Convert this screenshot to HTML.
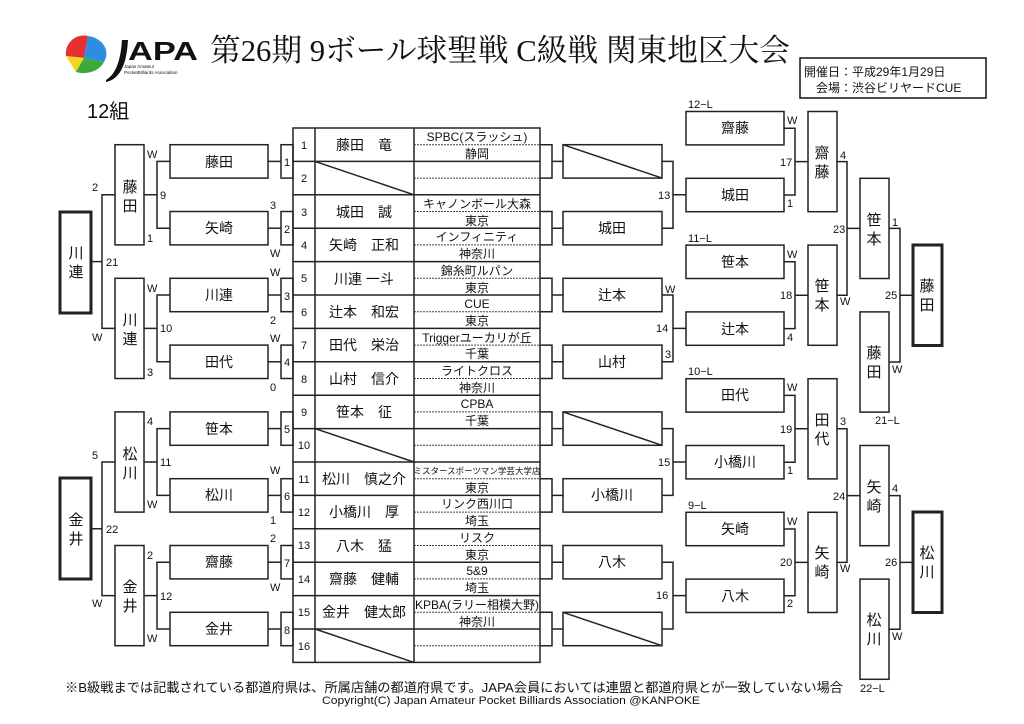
<!DOCTYPE html>
<html><head><meta charset="utf-8"><style>
html,body{margin:0;padding:0;background:#fff;}
svg{display:block;}
text{font-family:"Liberation Sans","Noto Sans CJK JP",sans-serif;fill:#111;}
.s{font-family:"Liberation Serif","Noto Serif CJK SC",serif;}
</style></head><body>
<svg width="1024" height="724" viewBox="0 0 1024 724" xmlns="http://www.w3.org/2000/svg">
<!-- logo -->
<g>
<path d="M66 56 A18 18 0 0 1 88 36 L84 58 Z" fill="#e53030"/>
<path d="M88 36 A22 18 0 0 1 104 62 L84 58 Z" fill="#2a8fe0"/>
<path d="M66 56 L84 58 L76 72 Z" fill="#f2d520"/>
<path d="M76 72 L84 58 L104 62 A22 18 0 0 1 76 72 Z" fill="#3aaa3a"/>
<path d="M106 80 Q120 72 122 40 L128 40 Q126 78 106 82 Z" fill="#111"/>
<text x="128" y="60" font-size="26" font-weight="bold" textLength="70" lengthAdjust="spacingAndGlyphs">APA</text>
<text x="124" y="68" font-size="4.5">Japan Amateur</text>
<text x="124" y="74" font-size="4.5">PocketBilliards Association</text>
</g>
<text class="s" x="210" y="61" font-size="31" textLength="580" lengthAdjust="spacingAndGlyphs">第26期 9ボール球聖戦 C級戦 関東地区大会</text>
<rect x="800" y="58" width="186" height="40" fill="none" stroke="#111" stroke-width="1.5"/>
<text x="804" y="76" font-size="12">開催日：平成29年1月29日</text>
<text x="816" y="92" font-size="12">会場：渋谷ビリヤードCUE</text>
<text x="87" y="118" font-size="20">12組</text>

<g fill="none" stroke="#222" stroke-width="1.5">
<!-- table -->
<rect x="293" y="128" width="247" height="534.4"/>
<line x1="315" y1="128" x2="315" y2="662.4"/>
<line x1="414" y1="128" x2="414" y2="662.4"/>
<line x1="293" y1="161.4" x2="540" y2="161.4"/><line x1="293" y1="194.8" x2="540" y2="194.8"/>
<line x1="293" y1="228.2" x2="540" y2="228.2"/><line x1="293" y1="261.6" x2="540" y2="261.6"/>
<line x1="293" y1="295" x2="540" y2="295"/><line x1="293" y1="328.4" x2="540" y2="328.4"/>
<line x1="293" y1="361.8" x2="540" y2="361.8"/><line x1="293" y1="395.2" x2="540" y2="395.2"/>
<line x1="293" y1="428.6" x2="540" y2="428.6"/><line x1="293" y1="462" x2="540" y2="462"/>
<line x1="293" y1="495.4" x2="540" y2="495.4"/><line x1="293" y1="528.8" x2="540" y2="528.8"/>
<line x1="293" y1="562.2" x2="540" y2="562.2"/><line x1="293" y1="595.6" x2="540" y2="595.6"/>
<line x1="293" y1="629" x2="540" y2="629"/>
<line x1="315" y1="161.4" x2="414" y2="194.8"/>
<line x1="315" y1="428.6" x2="414" y2="462"/>
<line x1="315" y1="629" x2="414" y2="662.4"/>
</g>
<g stroke="#444" stroke-width="1" stroke-dasharray="2,1">
<line x1="414" y1="144.7" x2="540" y2="144.7"/><line x1="414" y1="178.1" x2="540" y2="178.1"/>
<line x1="414" y1="211.5" x2="540" y2="211.5"/><line x1="414" y1="244.9" x2="540" y2="244.9"/>
<line x1="414" y1="278.3" x2="540" y2="278.3"/><line x1="414" y1="311.7" x2="540" y2="311.7"/>
<line x1="414" y1="345.1" x2="540" y2="345.1"/><line x1="414" y1="378.5" x2="540" y2="378.5"/>
<line x1="414" y1="411.9" x2="540" y2="411.9"/><line x1="414" y1="445.3" x2="540" y2="445.3"/>
<line x1="414" y1="478.7" x2="540" y2="478.7"/><line x1="414" y1="512.1" x2="540" y2="512.1"/>
<line x1="414" y1="545.5" x2="540" y2="545.5"/><line x1="414" y1="578.9" x2="540" y2="578.9"/>
<line x1="414" y1="612.3" x2="540" y2="612.3"/><line x1="414" y1="645.7" x2="540" y2="645.7"/>
</g>
<g font-size="11" text-anchor="middle">
<text x="304" y="149">1</text><text x="304" y="182">2</text><text x="304" y="216">3</text><text x="304" y="249">4</text>
<text x="304" y="282">5</text><text x="304" y="316">6</text><text x="304" y="349">7</text><text x="304" y="383">8</text>
<text x="304" y="416">9</text><text x="304" y="449">10</text><text x="304" y="483">11</text><text x="304" y="516">12</text>
<text x="304" y="549">13</text><text x="304" y="583">14</text><text x="304" y="616">15</text><text x="304" y="650">16</text>
</g>
<g font-size="14" text-anchor="middle">
<text x="364" y="150">藤田　竜</text><text x="364" y="217">城田　誠</text><text x="364" y="250">矢崎　正和</text>
<text x="364" y="284">川連 一斗</text><text x="364" y="317">辻本　和宏</text><text x="364" y="350">田代　栄治</text>
<text x="364" y="384">山村　信介</text><text x="364" y="417">笹本　征</text><text x="364" y="484">松川　慎之介</text>
<text x="364" y="517">小橋川　厚</text><text x="364" y="551">八木　猛</text><text x="364" y="584">齋藤　健輔</text>
<text x="364" y="617">金井　健太郎</text>
</g>
<g font-size="12" text-anchor="middle">
<text x="477" y="141">SPBC(スラッシュ)</text><text x="477" y="158">静岡</text>
<text x="477" y="208">キャノンボール大森</text><text x="477" y="225">東京</text>
<text x="477" y="241">インフィニティ</text><text x="477" y="258">神奈川</text>
<text x="477" y="275">錦糸町ルパン</text><text x="477" y="292">東京</text>
<text x="477" y="308">CUE</text><text x="477" y="325">東京</text>
<text x="477" y="342">Triggerユーカリが丘</text><text x="477" y="358">千葉</text>
<text x="477" y="375">ライトクロス</text><text x="477" y="392">神奈川</text>
<text x="477" y="408">CPBA</text><text x="477" y="425">千葉</text>
<text x="477" y="474" font-size="8.5">ミスタースポーツマン学芸大学店</text><text x="477" y="492">東京</text>
<text x="477" y="508">リンク西川口</text><text x="477" y="525">埼玉</text>
<text x="477" y="542">リスク</text><text x="477" y="559">東京</text>
<text x="477" y="575">5&amp;9</text><text x="477" y="592">埼玉</text>
<text x="477" y="609">KPBA(ラリー相模大野)</text><text x="477" y="626">神奈川</text>
</g>

<g fill="none" stroke="#222" stroke-width="1.5">
<!-- left little boxes and round1 boxes -->
<rect x="281" y="144.7" width="12" height="33.4"/><rect x="281" y="211.5" width="12" height="33.4"/>
<rect x="281" y="278.3" width="12" height="33.4"/><rect x="281" y="345.1" width="12" height="33.4"/>
<rect x="281" y="411.9" width="12" height="33.4"/><rect x="281" y="478.7" width="12" height="33.4"/>
<rect x="281" y="545.5" width="12" height="33.4"/><rect x="281" y="612.3" width="12" height="33.4"/>
<rect x="170" y="144.7" width="98" height="33.4"/><rect x="170" y="211.5" width="98" height="33.4"/>
<rect x="170" y="278.3" width="98" height="33.4"/><rect x="170" y="345.1" width="98" height="33.4"/>
<rect x="170" y="411.9" width="98" height="33.4"/><rect x="170" y="478.7" width="98" height="33.4"/>
<rect x="170" y="545.5" width="98" height="33.4"/><rect x="170" y="612.3" width="98" height="33.4"/>
<line x1="268" y1="161.4" x2="281" y2="161.4"/><line x1="268" y1="228.2" x2="281" y2="228.2"/>
<line x1="268" y1="295" x2="281" y2="295"/><line x1="268" y1="361.8" x2="281" y2="361.8"/>
<line x1="268" y1="428.6" x2="281" y2="428.6"/><line x1="268" y1="495.4" x2="281" y2="495.4"/>
<line x1="268" y1="562.2" x2="281" y2="562.2"/><line x1="268" y1="629" x2="281" y2="629"/>
<!-- left round2 -->
<rect x="115" y="144.7" width="29" height="100.2"/><rect x="115" y="278.3" width="29" height="100.2"/>
<rect x="115" y="411.9" width="29" height="100.2"/><rect x="115" y="545.5" width="29" height="100.2"/>
<path d="M170 161.4H157V228.2H170M144 194.8H157"/>
<path d="M170 295H157V361.8H170M144 328.4H157"/>
<path d="M170 428.6H157V495.4H170M144 462H157"/>
<path d="M170 562.2H157V629H170M144 595.6H157"/>
<path d="M115 194.8H102V328.4H115M91 261.6H102"/>
<path d="M115 462H102V595.6H115M91 528.8H102"/>
<rect x="60" y="212" width="31" height="101" stroke-width="3"/>
<rect x="60" y="478" width="31" height="101" stroke-width="3"/>

<!-- right of table -->
<path d="M540 144.7H552V178.1H540M552 161.4H563"/>
<path d="M540 211.5H552V244.9H540M552 228.2H563"/>
<path d="M540 278.3H552V311.7H540M552 295H563"/>
<path d="M540 345.1H552V378.5H540M552 361.8H563"/>
<path d="M540 411.9H552V445.3H540M552 428.6H563"/>
<path d="M540 478.7H552V512.1H540M552 495.4H563"/>
<path d="M540 545.5H552V578.9H540M552 562.2H563"/>
<path d="M540 612.3H552V645.7H540M552 629H563"/>
<rect x="563" y="144.7" width="99" height="33.4"/><rect x="563" y="211.5" width="99" height="33.4"/>
<rect x="563" y="278.3" width="99" height="33.4"/><rect x="563" y="345.1" width="99" height="33.4"/>
<rect x="563" y="411.9" width="99" height="33.4"/><rect x="563" y="478.7" width="99" height="33.4"/>
<rect x="563" y="545.5" width="99" height="33.4"/><rect x="563" y="612.3" width="99" height="33.4"/>
<line x1="563" y1="144.7" x2="662" y2="178.1"/>
<line x1="563" y1="411.9" x2="662" y2="445.3"/>
<line x1="563" y1="612.3" x2="662" y2="645.7"/>
<path d="M662 161.4H673V228.2H662M673 194.8H686"/>
<path d="M662 295H673V361.8H662M673 328.4H686"/>
<path d="M662 428.6H673V495.4H662M673 462H686"/>
<path d="M662 562.2H673V629H662M673 595.6H686"/>
<rect x="686" y="111.5" width="98" height="33.4"/><rect x="686" y="178.3" width="98" height="33.4"/>
<rect x="686" y="245.1" width="98" height="33.4"/><rect x="686" y="311.9" width="98" height="33.4"/>
<rect x="686" y="378.7" width="98" height="33.4"/><rect x="686" y="445.5" width="98" height="33.4"/>
<rect x="686" y="512.3" width="98" height="33.4"/><rect x="686" y="579.1" width="98" height="33.4"/>
<path d="M784 128.2H795V195H784M795 161.6H808"/>
<path d="M784 261.8H795V328.6H784M795 295.2H808"/>
<path d="M784 395.4H795V462.2H784M795 428.8H808"/>
<path d="M784 529H795V595.8H784M795 562.4H808"/>
<rect x="808" y="111.5" width="29" height="100.2"/><rect x="808" y="245.1" width="29" height="100.2"/>
<rect x="808" y="378.7" width="29" height="100.2"/><rect x="808" y="512.3" width="29" height="100.2"/>
<path d="M837 161.6H847V295.2H837M847 228.4H860"/>
<path d="M837 428.8H847V562.4H837M847 495.6H860"/>
<rect x="860" y="178.3" width="29" height="100.2"/><rect x="860" y="311.9" width="29" height="100.2"/>
<rect x="860" y="445.5" width="29" height="100.2"/><rect x="860" y="579.1" width="29" height="100.2"/>
<path d="M889 228.4H900V362H889M900 295.2H913"/>
<path d="M889 495.6H900V629.2H889M900 562.4H913"/>
<rect x="913" y="245" width="29" height="100.5" stroke-width="3"/>
<rect x="913" y="512" width="29" height="100.5" stroke-width="3"/>
</g>

<!-- names -->
<g font-size="14" text-anchor="middle">
<text x="219" y="167">藤田</text><text x="219" y="233">矢崎</text><text x="219" y="300">川連</text><text x="219" y="367">田代</text>
<text x="219" y="434">笹本</text><text x="219" y="500">松川</text><text x="219" y="567">齋藤</text><text x="219" y="634">金井</text>
<text x="612" y="233">城田</text><text x="612" y="300">辻本</text><text x="612" y="367">山村</text>
<text x="612" y="500">小橋川</text><text x="612" y="567">八木</text>
<text x="735" y="133">齋藤</text><text x="735" y="200">城田</text><text x="735" y="267">笹本</text><text x="735" y="334">辻本</text>
<text x="735" y="400">田代</text><text x="735" y="467">小橋川</text><text x="735" y="534">矢崎</text><text x="735" y="601">八木</text>
</g>
<g font-size="15" text-anchor="middle">
<text x="130" y="192">藤</text><text x="130" y="211">田</text>
<text x="130" y="325">川</text><text x="130" y="344">連</text>
<text x="130" y="459">松</text><text x="130" y="478">川</text>
<text x="130" y="592">金</text><text x="130" y="611">井</text>
<text x="76" y="258">川</text><text x="76" y="277">連</text>
<text x="76" y="525">金</text><text x="76" y="544">井</text>
<text x="822" y="158">齋</text><text x="822" y="177">藤</text>
<text x="822" y="291">笹</text><text x="822" y="310">本</text>
<text x="822" y="425">田</text><text x="822" y="444">代</text>
<text x="822" y="558">矢</text><text x="822" y="577">崎</text>
<text x="874" y="225">笹</text><text x="874" y="244">本</text>
<text x="874" y="358">藤</text><text x="874" y="377">田</text>
<text x="874" y="492">矢</text><text x="874" y="511">崎</text>
<text x="874" y="625">松</text><text x="874" y="644">川</text>
<text x="927" y="291">藤</text><text x="927" y="310">田</text>
<text x="927" y="558">松</text><text x="927" y="577">川</text>
</g>

<!-- small numbers -->
<g font-size="11">
<text x="284" y="166">1</text><text x="284" y="233">2</text><text x="284" y="300">3</text><text x="284" y="366">4</text>
<text x="284" y="433">5</text><text x="284" y="500">6</text><text x="284" y="567">7</text><text x="284" y="634">8</text>
<text x="270" y="209">3</text><text x="270" y="257">W</text><text x="270" y="276">W</text><text x="270" y="324">2</text>
<text x="270" y="342">W</text><text x="270" y="391">0</text>
<text x="270" y="474">W</text><text x="270" y="524">1</text><text x="270" y="542">2</text><text x="270" y="591">W</text>
<text x="147" y="158">W</text><text x="147" y="242">1</text><text x="160" y="199">9</text>
<text x="147" y="292">W</text><text x="147" y="376">3</text><text x="160" y="332">10</text>
<text x="147" y="425">4</text><text x="147" y="508">W</text><text x="160" y="466">11</text>
<text x="147" y="559">2</text><text x="147" y="642">W</text><text x="160" y="600">12</text>
<text x="92" y="191">2</text><text x="92" y="341">W</text><text x="106" y="266">21</text>
<text x="92" y="459">5</text><text x="92" y="607">W</text><text x="106" y="533">22</text>
<text x="658" y="199">13</text><text x="665" y="293">W</text><text x="656" y="332">14</text><text x="665" y="358">3</text>
<text x="658" y="466">15</text><text x="656" y="599">16</text>
<text x="688" y="108">12−L</text><text x="688" y="242">11−L</text><text x="688" y="375">10−L</text><text x="688" y="509">9−L</text>
<text x="787" y="124">W</text><text x="787" y="207">1</text><text x="780" y="166">17</text>
<text x="787" y="258">W</text><text x="787" y="341">4</text><text x="780" y="299">18</text>
<text x="787" y="391">W</text><text x="787" y="474">1</text><text x="780" y="433">19</text>
<text x="787" y="525">W</text><text x="787" y="607">2</text><text x="780" y="566">20</text>
<text x="840" y="159">4</text><text x="840" y="305">W</text><text x="833" y="233">23</text>
<text x="840" y="425">3</text><text x="840" y="572">W</text><text x="833" y="500">24</text>
<text x="892" y="226">1</text><text x="892" y="373">W</text><text x="885" y="299">25</text>
<text x="892" y="492">4</text><text x="892" y="640">W</text><text x="885" y="566">26</text>
<text x="875" y="424">21−L</text>
</g>
<text x="65" y="692" font-size="13" textLength="778" lengthAdjust="spacingAndGlyphs">※B級戦までは記載されている都道府県は、所属店舗の都道府県です。JAPA会員においては連盟と都道府県とが一致していない場合</text>
<text x="860" y="692" font-size="11">22−L</text>
<text x="322" y="704" font-size="11" textLength="378" lengthAdjust="spacingAndGlyphs">Copyright(C) Japan Amateur Pocket Billiards Association @KANPOKE</text>
</svg>
</body></html>
